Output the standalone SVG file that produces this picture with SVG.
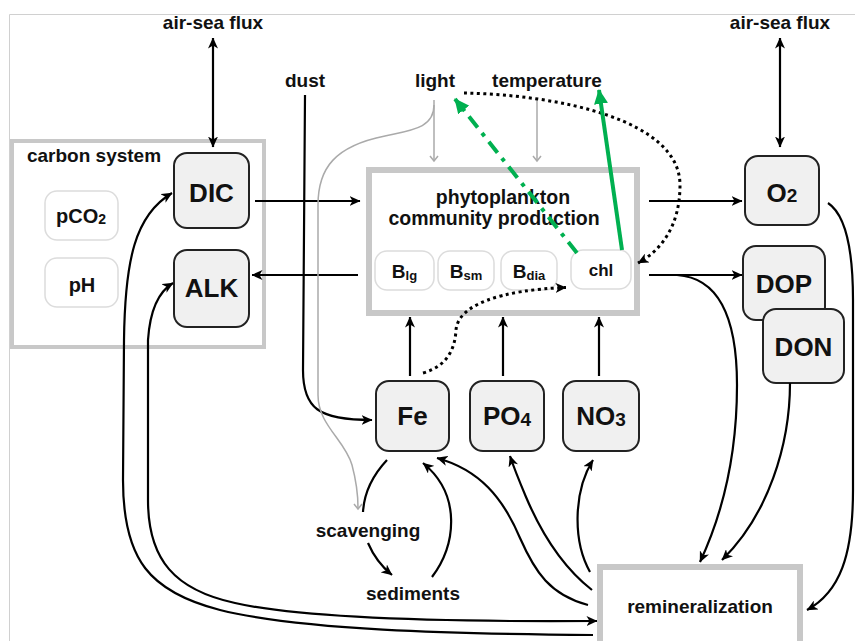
<svg xmlns="http://www.w3.org/2000/svg" width="855" height="641" viewBox="0 0 855 641">
<defs>
<style>
text{font-family:"Liberation Sans",Arial,sans-serif;font-weight:bold;fill:#111;text-anchor:middle}
.lbl{font-size:19px}
.nd{fill:#f0f0f0;stroke:#222;stroke-width:2}
.nl{font-size:26px}
.sb{fill:#fff;stroke:#dcdcdc;stroke-width:1.5}
.grp{fill:none;stroke:#c8c8c8}
.c{fill:none;stroke:#000;stroke-width:2.2}
.g{fill:none;stroke:#aaa;stroke-width:1.5}
.dot{fill:none;stroke:#000;stroke-width:3;stroke-dasharray:3 3.5}
.gr{fill:none;stroke:#00b050;stroke-width:4}
</style>
<marker id="ah" viewBox="0 0 11 10" refX="10.5" refY="5" markerWidth="11" markerHeight="10" markerUnits="userSpaceOnUse" orient="auto-start-reverse"><path d="M0,0 L11,5 L0,10 L3,5 z" fill="#000"/></marker>
<marker id="gh" viewBox="0 0 10 10" refX="5" refY="5" markerWidth="10" markerHeight="10" markerUnits="userSpaceOnUse" orient="auto"><path d="M1,1 L6,5 L1,9" fill="none" stroke="#aaa" stroke-width="1.5"/></marker>
<marker id="grh" viewBox="0 0 15 14" refX="14" refY="7" markerWidth="15" markerHeight="14" markerUnits="userSpaceOnUse" orient="auto"><path d="M0,0 L15,7 L0,14 z" fill="#00b050"/></marker>
</defs>
<rect width="855" height="641" fill="#fff"/>
<path d="M9.5,641 L9.5,14.5 L855,14.5" fill="none" stroke="#d0d0d0" stroke-width="1"/>

<g id="carbon-system">
<rect class="grp" x="12" y="141" width="252" height="206" stroke-width="4"/>
<text class="lbl" x="94" y="162">carbon system</text>
</g>
<g id="pCO2"><rect class="sb" x="45" y="191" width="73" height="49" rx="12"/><text x="81" y="223" font-size="20">pCO<tspan font-size="14" dy="1">2</tspan></text></g>
<g id="pH"><rect class="sb" x="45" y="258" width="73" height="49" rx="12"/><text x="82" y="292" font-size="20">pH</text></g>
<g id="DIC"><rect class="nd" x="174" y="153" width="75" height="75" rx="13"/><text class="nl" x="211.5" y="202">DIC</text></g>
<g id="ALK"><rect class="nd" x="174" y="250" width="75" height="77" rx="13"/><text class="nl" x="211.5" y="297">ALK</text></g>

<g id="phytoplankton">
<rect class="grp" x="369" y="170" width="268" height="143" stroke-width="6"/>
<text x="503" y="204" font-size="19.5">phytoplankton</text>
<text x="494" y="225" font-size="19.5">community production</text>
</g>
<g id="Blg"><rect class="sb" x="375" y="251" width="59" height="39" rx="12"/><text x="404.5" y="278" font-size="19">B<tspan font-size="13" dy="2">lg</tspan></text></g>
<g id="Bsm"><rect class="sb" x="438" y="251" width="56" height="39" rx="12"/><text x="466" y="278" font-size="19">B<tspan font-size="13" dy="2">sm</tspan></text></g>
<g id="Bdia"><rect class="sb" x="501" y="251" width="56" height="39" rx="12"/><text x="529" y="278" font-size="19">B<tspan font-size="13" dy="2">dia</tspan></text></g>
<g id="chl"><rect class="sb" x="571" y="250" width="60" height="39" rx="12"/><text x="601" y="276" font-size="17">chl</text></g>

<g id="Fe"><rect class="nd" x="376" y="381" width="73" height="70" rx="13"/><text class="nl" x="412.5" y="425">Fe</text></g>
<g id="PO4"><rect class="nd" x="470" y="381" width="74" height="70" rx="13"/><text class="nl" x="507" y="425">PO<tspan font-size="19" dy="1">4</tspan></text></g>
<g id="NO3"><rect class="nd" x="563" y="381" width="76" height="70" rx="13"/><text class="nl" x="601" y="425">NO<tspan font-size="19" dy="1">3</tspan></text></g>

<g id="O2"><rect class="nd" x="745" y="156" width="74" height="69" rx="13"/><text class="nl" x="782" y="202">O<tspan font-size="19" dy="0">2</tspan></text></g>
<g id="DOP"><rect class="nd" x="743" y="246" width="82" height="74" rx="13"/><text class="nl" x="784" y="293">DOP</text></g>
<g id="DON"><rect class="nd" x="763" y="309" width="81" height="74" rx="13"/><text class="nl" x="803.5" y="356">DON</text></g>

<g id="remineralization">
<rect class="grp" x="600" y="567" width="200" height="100" stroke-width="6"/>
<text class="lbl" x="700" y="613">remineralization</text>
</g>

<g id="labels">
<text class="lbl" x="213" y="29">air-sea flux</text>
<text class="lbl" x="780" y="29">air-sea flux</text>
<text class="lbl" x="305" y="87">dust</text>
<text class="lbl" x="435" y="87">light</text>
<text class="lbl" x="547" y="87">temperature</text>
<text class="lbl" x="368" y="537">scavenging</text>
<text class="lbl" x="413" y="600">sediments</text>
</g>

<g id="connectors">
<path class="c" d="M213,38 L213,147" marker-start="url(#ah)" marker-end="url(#ah)"/>
<path class="c" d="M780,38 L780,147" marker-start="url(#ah)" marker-end="url(#ah)"/>
<path class="c" d="M255,201 L360,201" marker-end="url(#ah)"/>
<path class="c" d="M358,275 L252,275" marker-end="url(#ah)"/>
<path class="c" d="M649,201 L742,201" marker-end="url(#ah)"/>
<path class="c" d="M649,275 L742,275" marker-end="url(#ah)"/>
<path class="c" d="M410,376 L410,317" marker-end="url(#ah)"/>
<path class="c" d="M503,376 L503,317" marker-end="url(#ah)"/>
<path class="c" d="M599,376 L599,317" marker-end="url(#ah)"/>
<path class="c" d="M677,275 C722,278 737,325 737,385 C737,455 722,515 700,562" marker-end="url(#ah)"/>
<path class="c" d="M790,383 C790,445 768,515 722,560" marker-end="url(#ah)"/>
<path class="c" d="M828,203 C846,215 853,250 853,300 L853,490 C853,555 840,592 807,610" marker-end="url(#ah)"/>
<path class="c" d="M590,572 C572,540 574,490 593,460" marker-end="url(#ah)"/>
<path class="c" d="M592,590 C560,565 540,530 526,497 C518,478 513,465 510,456" marker-end="url(#ah)"/>
<path class="c" d="M588,605 C550,595 535,572 520,538 C503,498 480,470 437,458" marker-end="url(#ah)"/>
<path class="c" d="M432,577 C456,545 462,495 423,463" marker-end="url(#ah)"/>
<path class="c" d="M387,460 C372,476 364,495 363,512"/>
<path class="c" d="M368,543 C374,557 382,567 392,575" marker-end="url(#ah)"/>
<path class="c" d="M305,95 L303,370 C303,408 318,420 372,420" marker-end="url(#ah)"/>
<path class="c" d="M593,635 C450,634 300,630 220,610 C150,592 123,560 123,480 L124,340 C125,260 135,215 172,193" marker-end="url(#ah)"/>
<path class="c" d="M597,621 C450,622 300,618 235,603 C175,590 148,560 148,500 L148,340 C150,310 158,292 173,283" marker-start="url(#ah)" marker-end="url(#ah)"/>
<path class="g" d="M434,100 L434,160" marker-end="url(#gh)"/>
<path class="g" d="M537,100 L537,160" marker-end="url(#gh)"/>
<path class="g" d="M434,105 C434,128 412,130 385,136 C335,146 318,168 318,205 L318,395 C318,425 345,440 352,465 C356,480 358,495 358,508" marker-end="url(#gh)"/>
<path class="dot" d="M423,373 C448,366 455,348 456,330 C458,305 500,290 566,287.5" marker-end="url(#ah)"/>
<path class="dot" d="M464,93 C560,95 680,120 680,185 C680,225 662,250 638,263" marker-end="url(#ah)"/>
<path class="gr" d="M577,253 L455,99" stroke-dasharray="14 7 4 7" marker-end="url(#grh)"/>
<path class="gr" d="M622,250 L599,90" marker-end="url(#grh)"/>
</g>
</svg>
